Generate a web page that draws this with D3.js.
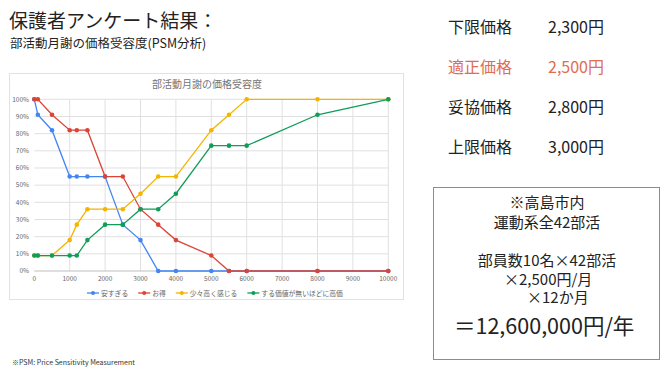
<!DOCTYPE html>
<html>
<head>
<meta charset="utf-8">
<script src="https://cdn.jsdelivr.net/npm/d3@7"></script>
<style>
  body { margin: 0; background: #fff; }
  svg { display: block; font-family: "Noto Sans CJK JP", "Noto Sans", sans-serif; }
</style>
</head>
<body>
<svg id="chart" width="670" height="376"></svg>
<script>
// price points (yen) shared by all series
const prices = [0, 100, 500, 1000, 1200, 1500, 2000, 2500, 3000, 3500, 4000, 5000, 5500, 6000, 8000, 10000];

const tooCheap = [100, 91, 82, 55, 55, 55, 55, 27, 18, 0, 0, 0, 0, 0, 0, 0];
const cheap = [100, 100, 91, 82, 82, 82, 55, 55, 36, 27, 18, 9, 0, 0, 0, 0];
const bitExpensive = [9, 9, 9, 18, 27, 36, 36, 36, 45, 55, 55, 82, 91, 100, 100, 100];
const tooExpensive = [9, 9, 9, 9, 9, 18, 27, 27, 36, 36, 45, 73, 73, 73, 91, 100];

const seriesNames = ["安すぎる", "お得", "少々高く感じる", "する価値が無いほどに高価"];
const seriesColors = ["#4285f4", "#db4437", "#f4b400", "#0f9d58"];
const xTicks = [0, 1000, 2000, 3000, 4000, 5000, 6000, 7000, 8000, 9000, 10000];
const yTicks = [0, 10, 20, 30, 40, 50, 60, 70, 80, 90, 100];

const priceLabels = ["下限価格", "適正価格", "妥協価格", "上限価格"];
const priceValues = ["2,300円", "2,500円", "2,800円", "3,000円"];

const svg = d3.select("#chart");

// slide titles
svg.append("text").attr("x", 9).attr("y", 28)
  .attr("font-size", 19).attr("fill", "#222").text("保護者アンケート結果：");
svg.append("text").attr("x", 10).attr("y", 48)
  .attr("font-size", 12.5).attr("fill", "#222").text("部活動月謝の価格受容度(PSM分析)");

// chart frame
svg.append("rect").attr("x", 9.5).attr("y", 73.5).attr("width", 394).attr("height", 226)
  .attr("fill", "#fff").attr("stroke", "#e2e2e2");

svg.append("text").attr("x", 207).attr("y", 88).attr("text-anchor", "middle")
  .attr("font-size", 10).attr("fill", "#757575").text("部活動月謝の価格受容度");

const x = d3.scaleLinear().domain([0, 10000]).range([34.3, 388.3]);
const y = d3.scaleLinear().domain([0, 100]).range([271, 99.3]);

const g = svg.append("g");

// grid
g.selectAll(".vg").data(xTicks.slice(1)).enter().append("line")
  .attr("x1", d => x(d)).attr("x2", d => x(d))
  .attr("y1", y(100)).attr("y2", y(0))
  .attr("stroke", "#e0e0e0").attr("stroke-width", 1);
g.selectAll(".hg").data(yTicks).enter().append("line")
  .attr("x1", x(0)).attr("x2", x(10000))
  .attr("y1", d => y(d)).attr("y2", d => y(d))
  .attr("stroke", d => d === 0 ? "#bdbdbd" : "#e0e0e0").attr("stroke-width", 1);

// tick labels
g.selectAll(".xl").data(xTicks).enter().append("text")
  .attr("x", d => x(d)).attr("y", 281).attr("text-anchor", "middle")
  .attr("font-size", 6.5).attr("fill", "#666").text(d => d);
g.selectAll(".yl").data(yTicks).enter().append("text")
  .attr("x", 29).attr("y", d => y(d) + 2.3).attr("text-anchor", "end")
  .attr("font-size", 6.5).attr("fill", "#666").text(d => d + "%");

// series
const allSeries = [tooCheap, cheap, bitExpensive, tooExpensive];
const line = d3.line().x((d, i) => x(prices[i])).y(d => y(d));

allSeries.forEach((vals, si) => {
  g.append("path").datum(vals).attr("d", line)
    .attr("fill", "none").attr("stroke", seriesColors[si]).attr("stroke-width", 1.3);
  g.selectAll(".pt" + si).data(vals).enter().append("circle")
    .attr("cx", (d, i) => x(prices[i])).attr("cy", d => y(d))
    .attr("r", 2.3).attr("fill", seriesColors[si]);
});

// legend
const legend = svg.append("g");
let lx = 87;
seriesNames.forEach((name, i) => {
  const item = legend.append("g").attr("transform", `translate(${lx},293)`);
  item.append("line").attr("x1", 0).attr("x2", 12).attr("y1", 0).attr("y2", 0)
    .attr("stroke", seriesColors[i]).attr("stroke-width", 1.3);
  item.append("circle").attr("cx", 6).attr("cy", 0).attr("r", 2).attr("fill", seriesColors[i]);
  const t = item.append("text").attr("x", 14).attr("y", 2.5)
    .attr("font-size", 6.8).attr("fill", "#666").text(name);
  lx += 14 + t.node().getComputedTextLength() + 10;
});

// price summary
priceLabels.forEach((lab, i) => {
  const col = i === 1 ? "#df6d52" : "#222";
  svg.append("text").attr("x", 448).attr("y", 33 + i * 40)
    .attr("font-size", 16).attr("fill", col).text(lab);
  svg.append("text").attr("x", 548).attr("y", 33 + i * 40)
    .attr("font-size", 16).attr("fill", col).text(priceValues[i]);
});

// calculation box
svg.append("rect").attr("x", 433.5).attr("y", 187.5).attr("width", 226).attr("height", 172)
  .attr("fill", "#fff").attr("stroke", "#8c8c8c");

const boxLines = [
  { t: "※高島市内", x: 547, y: 208, a: "middle", s: 15 },
  { t: "運動系全42部活", x: 547, y: 228, a: "middle", s: 15 },
  { t: "部員数10名×42部活", x: 547, y: 266, a: "middle", s: 15 },
  { t: "×2,500円/月", x: 504, y: 285, a: "start", s: 15 },
  { t: "×12か月", x: 527, y: 303, a: "start", s: 15 },
  { t: "＝12,600,000円/年", x: 454, y: 334, a: "start", s: 21.5 }
];
boxLines.forEach(d => {
  svg.append("text").attr("x", d.x).attr("y", d.y).attr("text-anchor", d.a)
    .attr("font-size", d.s).attr("fill", "#222").text(d.t);
});

svg.append("text").attr("x", 12).attr("y", 365)
  .attr("font-size", 7).attr("fill", "#333").text("※PSM: Price Sensitivity Measurement");
</script>
</body>
</html>
